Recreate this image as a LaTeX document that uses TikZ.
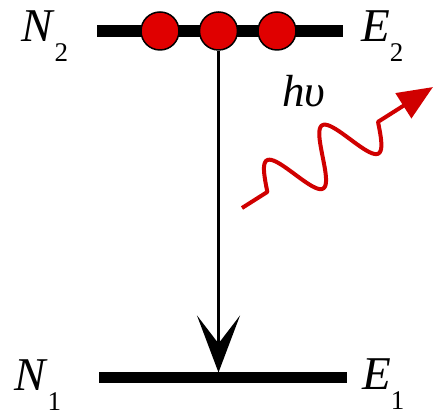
\documentclass[tikz,border=0pt]{standalone}
\usepackage{fontspec}
\setmainfont{Liberation Serif}
\usetikzlibrary{arrows.meta, positioning}
\definecolor{electronred}{RGB}{224,0,0}
\definecolor{photonred}{RGB}{208,0,0}
\newcommand{\levlabel}[2]{\fontsize{47}{47}\selectfont\textit{#1}\raisebox{-20pt}{\fontsize{27}{27}\selectfont #2}}

\begin{document}
\begin{tikzpicture}[x=1pt, y=1pt,
    level/.style={line width=12pt},
    electron/.style={circle, draw, line width=1.5pt, fill=electronred, minimum size=38pt, inner sep=0pt},
    lbl/.style={anchor=base west, inner sep=0pt},
    photon/.style={photonred, line width=4pt, line join=round, -{Triangle[length=35pt, width=29pt]}}]
  \useasboundingbox (0,0) rectangle (434,414);
  % energy levels
  \coordinate (E2l) at (97,383);
  \coordinate (E2r) at (343,383);
  \coordinate (E1l) at (99,36);
  \coordinate (E1r) at (347,36);
  \draw[level] (E2l) -- (E2r);
  \draw[level, line width=11pt] (E1l) -- (E1r);
  % electrons on the upper level
  \node[electron] (c1) at (160,383) {};
  \node[electron, right=19pt of c1] (c2) {};
  \node[electron, right=19pt of c2] (c3) {};
  % transition
  \coordinate (hit) at (218.5,41.5);
  \draw[line width=3pt, -{Stealth[length=57pt, width=43pt, inset=28pt]}] (c2) -- (hit);
  % emitted photon
  \coordinate (ph0) at (242,206);
  \begin{scope}[shift={(ph0)}, rotate=32.35]
    \draw[photon] (0,0) -- (30,0)
      -- plot[domain=30:161, samples=90, smooth] (\x, {27*sin((\x-30)/131*720)})
      -- (226,0);
  \end{scope}
  \node[lbl] (hv) at (282,307) {\fontsize{45}{45}\selectfont\textit{hυ}};
  % labels
  \node[lbl] (N2) at (21,372) {\levlabel{N}{2}};
  \node[lbl] (E2) at (361,372) {\levlabel{E}{2}};
  \node[lbl] (N1) at (14,23) {\levlabel{N}{1}};
  \node[lbl] (E1) at (362,24) {\levlabel{E}{1}};
\end{tikzpicture}
\end{document}
